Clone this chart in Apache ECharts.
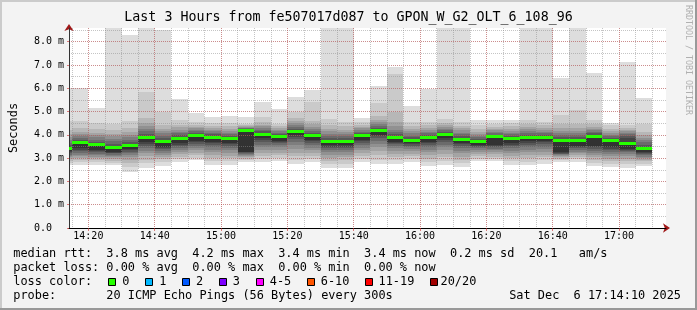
<!DOCTYPE html>
<html><head><meta charset="utf-8">
<script src="https://cdn.jsdelivr.net/npm/echarts@6/dist/echarts.min.js"></script>
<style>html,body{margin:0;padding:0;background:#f3f3f3}#c{width:697px;height:310px}</style>
</head><body><div id="c"></div>
<script>
// ---- data ----
const titleText = 'Last 3 Hours from fe507017d087 to GPON_W_G2_OLT_6_108_96';
const xStart = 854 + 10 / 60;   // 14:14:10 (minutes since midnight)
const xEnd = 1034 + 10 / 60;    // 17:14:10
const stepMin = 5;
const barEnds = [855, 860, 865, 870, 875, 880, 885, 890, 895, 900, 905, 910, 915, 920, 925, 930, 935, 940,
  945, 950, 955, 960, 965, 970, 975, 980, 985, 990, 995, 1000, 1005, 1010, 1015, 1020, 1025, 1030];
const medians = [3.40, 3.63, 3.55, 3.45, 3.52, 3.88, 3.70, 3.82, 3.96, 3.88, 3.82, 4.16, 4.01, 3.91, 4.13, 3.93, 3.70, 3.69,
  3.93, 4.16, 3.85, 3.73, 3.85, 3.99, 3.78, 3.69, 3.89, 3.81, 3.86, 3.85, 3.73, 3.72, 3.92, 3.73, 3.62, 3.38];
// 20 sorted ping rtts (ms) per 5-minute step
const pings = [
  [2.70, 2.80, 2.88, 2.96, 3.03, 3.09, 3.15, 3.20, 3.25, 3.30, 3.40, 3.48, 3.57, 3.67, 3.78, 3.90, 4.04, 4.22, 4.59, 6.00],
  [2.70, 2.82, 2.92, 3.00, 3.08, 3.15, 3.22, 3.29, 3.36, 3.42, 3.63, 3.70, 3.78, 3.86, 3.95, 4.04, 4.14, 4.28, 4.59, 6.00],
  [2.72, 2.83, 2.92, 3.00, 3.07, 3.13, 3.19, 3.25, 3.30, 3.35, 3.55, 3.63, 3.71, 3.80, 3.89, 3.99, 4.10, 4.25, 4.53, 5.15],
  [2.70, 2.80, 2.89, 2.97, 3.04, 3.10, 3.15, 3.20, 3.24, 3.28, 3.45, 3.53, 3.62, 3.72, 3.82, 3.93, 4.05, 4.22, 4.48, 8.60],
  [2.39, 2.60, 2.78, 2.92, 3.03, 3.12, 3.20, 3.27, 3.33, 3.38, 3.52, 3.60, 3.69, 3.79, 3.90, 4.01, 4.13, 4.30, 4.59, 8.28],
  [2.59, 2.78, 2.94, 3.08, 3.20, 3.31, 3.42, 3.52, 3.61, 3.68, 3.88, 3.96, 4.05, 4.15, 4.26, 4.38, 4.52, 4.72, 5.84, 8.60],
  [2.67, 2.82, 2.95, 3.06, 3.15, 3.23, 3.31, 3.38, 3.44, 3.49, 3.70, 3.78, 3.87, 3.96, 4.06, 4.16, 4.27, 4.42, 5.00, 8.52],
  [2.85, 2.96, 3.06, 3.16, 3.26, 3.35, 3.44, 3.52, 3.58, 3.64, 3.82, 3.90, 3.98, 4.06, 4.14, 4.23, 4.32, 4.44, 4.63, 5.54],
  [2.90, 3.01, 3.12, 3.23, 3.34, 3.44, 3.53, 3.61, 3.68, 3.73, 3.96, 4.03, 4.10, 4.16, 4.22, 4.28, 4.34, 4.42, 4.56, 4.94],
  [2.72, 2.86, 3.00, 3.13, 3.26, 3.37, 3.47, 3.56, 3.63, 3.68, 3.88, 3.95, 4.02, 4.09, 4.16, 4.23, 4.30, 4.40, 4.53, 4.76],
  [2.72, 2.86, 2.99, 3.11, 3.23, 3.34, 3.43, 3.52, 3.59, 3.64, 3.82, 3.89, 3.96, 4.03, 4.10, 4.18, 4.26, 4.37, 4.53, 4.82],
  [2.82, 2.90, 2.97, 3.03, 3.09, 3.14, 3.18, 3.22, 3.25, 3.28, 4.16, 4.20, 4.24, 4.28, 4.31, 4.34, 4.37, 4.41, 4.48, 4.76],
  [2.85, 2.98, 3.10, 3.22, 3.34, 3.46, 3.58, 3.69, 3.78, 3.85, 4.01, 4.08, 4.15, 4.22, 4.29, 4.36, 4.44, 4.55, 4.76, 5.41],
  [2.87, 3.00, 3.12, 3.24, 3.35, 3.46, 3.56, 3.64, 3.70, 3.75, 3.91, 3.98, 4.04, 4.10, 4.16, 4.22, 4.29, 4.37, 4.47, 5.11],
  [2.76, 2.92, 3.08, 3.24, 3.40, 3.55, 3.69, 3.81, 3.91, 3.99, 4.13, 4.20, 4.27, 4.34, 4.41, 4.49, 4.58, 4.72, 4.97, 5.62],
  [2.82, 2.96, 3.09, 3.21, 3.33, 3.44, 3.55, 3.64, 3.72, 3.78, 3.93, 4.01, 4.09, 4.17, 4.26, 4.35, 4.45, 4.60, 5.42, 5.92],
  [2.56, 2.74, 2.89, 3.02, 3.14, 3.25, 3.35, 3.43, 3.50, 3.56, 3.70, 3.78, 3.87, 3.96, 4.05, 4.15, 4.26, 4.42, 4.67, 8.60],
  [2.59, 2.76, 2.91, 3.04, 3.15, 3.25, 3.34, 3.42, 3.50, 3.56, 3.69, 3.77, 3.85, 3.94, 4.03, 4.12, 4.22, 4.36, 4.56, 8.60],
  [2.85, 2.98, 3.10, 3.22, 3.34, 3.45, 3.55, 3.64, 3.72, 3.78, 3.93, 4.00, 4.07, 4.14, 4.21, 4.28, 4.35, 4.44, 4.56, 4.71],
  [2.76, 2.94, 3.12, 3.30, 3.47, 3.62, 3.75, 3.86, 3.94, 4.00, 4.16, 4.23, 4.30, 4.37, 4.45, 4.54, 4.64, 4.80, 5.36, 6.08],
  [2.76, 2.90, 3.04, 3.17, 3.30, 3.42, 3.53, 3.62, 3.67, 3.71, 3.85, 3.93, 4.02, 4.12, 4.23, 4.36, 4.55, 4.99, 6.60, 6.91],
  [2.85, 2.97, 3.08, 3.19, 3.29, 3.38, 3.46, 3.53, 3.59, 3.64, 3.73, 3.81, 3.89, 3.97, 4.06, 4.15, 4.25, 4.38, 4.56, 5.25],
  [2.67, 2.83, 2.98, 3.12, 3.25, 3.37, 3.48, 3.58, 3.66, 3.71, 3.85, 3.92, 3.99, 4.06, 4.13, 4.21, 4.30, 4.41, 4.56, 5.98],
  [2.72, 2.88, 3.04, 3.19, 3.33, 3.46, 3.58, 3.69, 3.78, 3.85, 3.99, 4.06, 4.13, 4.20, 4.27, 4.35, 4.43, 4.53, 4.67, 8.60],
  [2.62, 2.78, 2.93, 3.07, 3.20, 3.32, 3.43, 3.53, 3.60, 3.66, 3.78, 3.86, 3.94, 4.02, 4.10, 4.19, 4.28, 4.40, 4.56, 8.60],
  [2.87, 2.98, 3.08, 3.18, 3.27, 3.35, 3.42, 3.48, 3.52, 3.56, 3.69, 3.76, 3.83, 3.90, 3.97, 4.05, 4.14, 4.26, 4.42, 4.65],
  [2.87, 2.97, 3.07, 3.16, 3.25, 3.33, 3.40, 3.46, 3.51, 3.56, 3.89, 3.95, 4.01, 4.07, 4.13, 4.19, 4.25, 4.34, 4.47, 4.65],
  [2.72, 2.86, 2.99, 3.11, 3.22, 3.32, 3.42, 3.51, 3.58, 3.64, 3.81, 3.88, 3.95, 4.02, 4.09, 4.17, 4.25, 4.36, 4.53, 4.63],
  [2.70, 2.85, 2.99, 3.12, 3.25, 3.37, 3.48, 3.58, 3.67, 3.75, 3.86, 3.93, 4.00, 4.08, 4.16, 4.24, 4.33, 4.45, 4.63, 8.60],
  [2.76, 2.90, 3.03, 3.15, 3.27, 3.38, 3.49, 3.59, 3.68, 3.75, 3.85, 3.92, 3.99, 4.06, 4.14, 4.22, 4.30, 4.41, 4.56, 8.60],
  [2.85, 2.92, 2.98, 3.03, 3.08, 3.12, 3.16, 3.19, 3.22, 3.25, 3.73, 3.81, 3.90, 3.99, 4.08, 4.18, 4.30, 4.48, 4.85, 6.45],
  [2.85, 2.95, 3.04, 3.12, 3.20, 3.28, 3.35, 3.42, 3.47, 3.52, 3.72, 3.80, 3.89, 3.98, 4.08, 4.18, 4.30, 4.48, 5.05, 8.60],
  [2.67, 2.80, 2.92, 3.03, 3.13, 3.23, 3.32, 3.40, 3.46, 3.52, 3.92, 3.99, 4.06, 4.13, 4.20, 4.27, 4.35, 4.46, 4.63, 6.65],
  [2.62, 2.75, 2.87, 2.98, 3.08, 3.17, 3.25, 3.33, 3.40, 3.46, 3.73, 3.80, 3.87, 3.94, 4.01, 4.08, 4.16, 4.27, 4.42, 4.53],
  [2.59, 2.73, 2.86, 2.98, 3.09, 3.18, 3.26, 3.32, 3.37, 3.40, 3.62, 3.85, 3.94, 4.02, 4.09, 4.16, 4.23, 4.31, 4.42, 7.14],
  [2.67, 2.77, 2.86, 2.94, 3.01, 3.07, 3.13, 3.18, 3.23, 3.28, 3.38, 3.48, 3.58, 3.68, 3.78, 3.88, 3.99, 4.13, 4.45, 5.59]
];
const xMinorTicks = [855, 860, 865, 870, 875, 880, 885, 890, 895, 900, 905, 910, 915, 920, 925, 930, 935, 940,
  945, 950, 955, 960, 965, 970, 975, 980, 985, 990, 995, 1000, 1005, 1010, 1015, 1020, 1025, 1030];
const xMajorTicks = [860, 880, 900, 920, 940, 960, 980, 1000, 1020];
const yMinorTicks = [0, 0.5, 1, 1.5, 2, 2.5, 3, 3.5, 4, 4.5, 5, 5.5, 6, 6.5, 7, 7.5, 8, 8.5];
const yMajorTicks = [0, 1, 2, 3, 4, 5, 6, 7, 8];
const yMax = 8.59;
const legendLines = [
  'median rtt:  3.8 ms avg  4.2 ms max  3.4 ms min  3.4 ms now  0.2 ms sd  20.1   am/s',
  'packet loss: 0.00 % avg  0.00 % max  0.00 % min  0.00 % now',
  'loss color:',
  'probe:       20 ICMP Echo Pings (56 Bytes) every 300s'
];
const lossLabels = ['0', '1', '2', '3', '4-5', '6-10', '11-19', '20/20'];
const lossColors = ['#26ff00', '#00b8ff', '#0059ff', '#7e00ff', '#ff00ff', '#ff5500', '#ff0000', '#a10000'];
const stamp = 'Sat Dec  6 17:14:10 2025';
const watermark = 'RRDTOOL / TOBI OETIKER';

// ---- chart ----
const MONO = 'DejaVu Sans Mono';
const fmtTime = v => { const h = Math.floor(v / 60), m = Math.round(v - h * 60); return h + ':' + String(m).padStart(2, '0'); };
const minorGrid = { show: true, lineStyle: { color: 'rgba(140,140,140,0.5)', width: 1, type: [1, 1] } };
const majorGrid = { show: true, lineStyle: { color: 'rgba(215,50,50,0.38)', width: 1, type: [1, 1] } };

const smokeData = pings.map((p, k) => [barEnds[k]].concat(p));
const medData = medians.map((m, k) => [barEnds[k], m]);

function clipToGrid(r, cs) {
  return echarts.graphic.clipRectByRect(r, { x: cs.x, y: cs.y, width: cs.width, height: cs.height });
}
function renderSmoke(params, api) {
  const cs = params.coordSys;
  const t1 = api.value(0), t0 = t1 - stepMin;
  const children = [];
  for (let i = 0; i < 10; i++) {
    const lo = api.value(1 + i), hi = api.value(20 - i);
    const a = api.coord([t0, hi]), b = api.coord([t1, lo]);
    const x0 = Math.round(a[0]), x1 = Math.round(b[0]);
    const y0 = Math.round(a[1]), y1 = Math.round(b[1]);
    const r = clipToGrid({ x: x0, y: y0, width: x1 - x0, height: y1 - y0 }, cs);
    if (!r) continue;
    const g = Math.floor(190 / 10 * (10 - (i + 1))) + 50;
    children.push({ type: 'rect', shape: r, style: { fill: 'rgb(' + g + ',' + g + ',' + g + ')' } });
  }
  return { type: 'group', children };
}
function renderMedian(params, api) {
  const cs = params.coordSys;
  const t1 = api.value(0), t0 = t1 - stepMin;
  const a = api.coord([t0, api.value(1)]), b = api.coord([t1, api.value(1)]);
  const x0 = Math.round(a[0]), x1 = Math.round(b[0]);
  const yc = Math.round(a[1]);
  const r = clipToGrid({ x: x0, y: yc - 2, width: x1 - x0, height: 3 }, cs);
  if (!r) return null;
  return { type: 'rect', shape: r, style: { fill: lossColors[0] } };
}

const graphics = [
  { type: 'rect', shape: { x: 0, y: 0, width: 697, height: 2 }, style: { fill: '#cbcbcb' }, silent: true },
  { type: 'rect', shape: { x: 0, y: 0, width: 2, height: 310 }, style: { fill: '#cbcbcb' }, silent: true },
  { type: 'rect', shape: { x: 695, y: 0, width: 2, height: 310 }, style: { fill: '#999999' }, silent: true },
  { type: 'rect', shape: { x: 0, y: 308, width: 697, height: 2 }, style: { fill: '#999999' }, silent: true },
  { type: 'text', x: 688, y: 5, rotation: -Math.PI / 2, silent: true,
    style: { text: watermark, font: '8.3px "' + MONO + '"', fill: '#b0b0b0', textAlign: 'left', textVerticalAlign: 'middle' } }
];
const lineY = [254.3, 268.2, 282.3, 296.3];
legendLines.forEach((t, i) => {
  graphics.push({ type: 'text', x: 13.3, y: lineY[i], silent: true,
    style: { text: t, font: '11.9px "' + MONO + '"', fill: '#000', textAlign: 'left', textVerticalAlign: 'middle' } });
});
const boxX = [108.5, 145.5, 182.5, 219.5, 256.5, 307.5, 365.5, 430.5];
const labX = [122.3, 159.3, 196.0, 232.8, 269.8, 320.8, 378.5, 440.5];
lossLabels.forEach((t, i) => {
  graphics.push({ type: 'rect', silent: true, shape: { x: boxX[i], y: 278.5, width: 7, height: 7 },
    style: { fill: lossColors[i], stroke: '#000', lineWidth: 1 } });
  graphics.push({ type: 'text', x: labX[i], y: lineY[2], silent: true,
    style: { text: t, font: '11.9px "' + MONO + '"', fill: '#000', textAlign: 'left', textVerticalAlign: 'middle' } });
});
graphics.push({ type: 'text', x: 681, y: lineY[3], silent: true,
  style: { text: stamp, font: '11.9px "' + MONO + '"', fill: '#000', textAlign: 'right', textVerticalAlign: 'middle' } });

const chart = echarts.init(document.getElementById('c'), null, { renderer: 'canvas' });
chart.setOption({
  animation: false,
  backgroundColor: '#f3f3f3',
  title: { text: titleText, left: 'center', top: 11, padding: 0,
    textStyle: { fontFamily: MONO, fontSize: 13.3, fontWeight: 'normal', color: '#000' } },
  grid: { left: 66, top: 28, width: 600, height: 200, show: true, backgroundColor: '#ffffff', borderWidth: 0, containLabel: false },
  xAxis: [
    { type: 'value', min: xStart, max: xEnd, position: 'bottom', z: 3,
      axisLine: { show: true, lineStyle: { color: '#a01818', width: 1 }, symbol: ['none', 'arrow'], symbolSize: [7, 7], symbolOffset: [0, 4] },
      axisTick: { show: false, customValues: xMinorTicks },
      axisLabel: { show: false },
      splitLine: minorGrid },
    { type: 'value', min: xStart, max: xEnd, position: 'bottom', z: 4,
      axisLine: { show: true, lineStyle: { color: '#000', width: 1 } },
      axisTick: { show: true, customValues: xMajorTicks, length: 3, lineStyle: { color: 'rgba(205,40,40,0.6)' } },
      axisLabel: { show: true, customValues: xMajorTicks, formatter: fmtTime, margin: 3,
        fontFamily: MONO, fontSize: 10, color: '#000' },
      splitLine: majorGrid }
  ],
  yAxis: [
    { type: 'value', min: 0, max: yMax, z: 3,
      axisLine: { show: true, lineStyle: { color: '#a01818', width: 1 }, symbol: ['none', 'arrow'], symbolSize: [7, 7], symbolOffset: [0, 4] },
      axisTick: { show: false, customValues: yMinorTicks },
      axisLabel: { show: false },
      splitLine: minorGrid },
    { type: 'value', min: 0, max: yMax, z: 4, position: 'left',
      name: 'Seconds', nameLocation: 'middle', nameGap: 49, nameRotate: 90,
      nameTextStyle: { fontFamily: MONO, fontSize: 11.9, color: '#000' },
      axisLine: { show: true, lineStyle: { color: '#333', width: 1 } },
      axisTick: { show: true, customValues: yMajorTicks, length: 2, lineStyle: { color: 'rgba(205,40,40,0.6)' } },
      axisLabel: { show: true, customValues: yMajorTicks, margin: 5,
        formatter: v => v === 0 ? '0.0  ' : v.toFixed(1) + ' m',
        fontFamily: MONO, fontSize: 10, color: '#000' },
      splitLine: majorGrid }
  ],
  series: [
    { type: 'custom', name: 'smoke', xAxisIndex: 0, yAxisIndex: 0, z: 1, silent: true,
      renderItem: renderSmoke, data: smokeData, encode: { x: 0, y: [1, 20] } },
    { type: 'custom', name: 'median', xAxisIndex: 0, yAxisIndex: 0, z: 10, silent: true,
      renderItem: renderMedian, data: medData, encode: { x: 0, y: 1 } }
  ],
  graphic: graphics
});
</script></body></html>
